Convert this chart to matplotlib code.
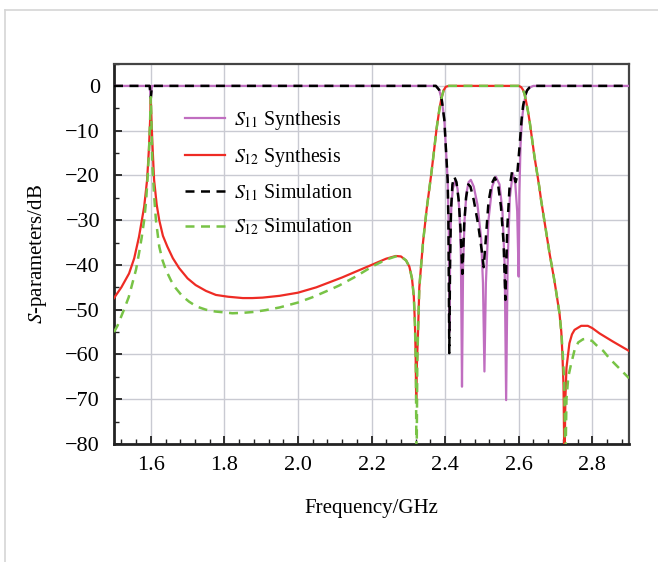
import numpy as np
import matplotlib
matplotlib.use('Agg')
import matplotlib.pyplot as plt
from matplotlib.lines import Line2D
from matplotlib.ticker import MultipleLocator

plt.rcParams['font.family'] = ['Liberation Serif', 'DejaVu Serif']
plt.rcParams['mathtext.fontset'] = 'stix'

# S12 synthesis (GHz, dB)
s12_syn_f = [1.5, 1.52, 1.541, 1.555, 1.568, 1.582, 1.59, 1.595, 1.598, 1.6, 1.602, 1.605,
             1.609, 1.616, 1.623, 1.633, 1.645, 1.66, 1.677, 1.70, 1.722, 1.75, 1.777, 1.81,
             1.85, 1.876, 1.904, 1.95, 2.0, 2.05, 2.085, 2.12, 2.157, 2.203, 2.24, 2.266,
             2.28, 2.294, 2.303, 2.31, 2.315, 2.318, 2.320, 2.3215, 2.3235, 2.3265, 2.330,
             2.34, 2.35, 2.362, 2.37, 2.377, 2.385, 2.39, 2.396, 2.402, 2.41, 2.5, 2.6,
             2.603, 2.607, 2.612, 2.616, 2.621, 2.625, 2.63, 2.643, 2.656, 2.661, 2.684,
             2.697, 2.702, 2.711, 2.716, 2.719, 2.722, 2.7245, 2.727, 2.730, 2.738, 2.745,
             2.752, 2.77, 2.788, 2.80, 2.82, 2.856, 2.9]
s12_syn_db = [-47.4, -45.0, -41.9, -38.5, -33.7, -27, -21, -14, -8, -3, -8, -14,
              -21, -26.5, -30, -33.5, -35.9, -38.5, -40.7, -43, -44.5, -45.8, -46.7, -47.1,
              -47.4, -47.4, -47.3, -46.9, -46.2, -45, -43.9, -42.8, -41.5, -39.9, -38.6, -38.0,
              -38.1, -39.0, -40.4, -43, -47, -53, -60, -70.5, -62, -55, -45,
              -35, -27.5, -20, -14.5, -9.5, -5, -2.8, -1, -0.2, 0, 0, 0,
              -0.1, -0.3, -0.9, -1.8, -3.8, -5.5, -8, -15.8, -22.5, -25.5, -37.4,
              -43.4, -46, -50.8, -55, -60, -67, -86, -70, -63, -57.5, -55.5,
              -54.5, -53.6, -53.6, -54.1, -55.3, -57.1, -59.2]

# S12 simulation
s12_sim_f = [1.5, 1.51, 1.527, 1.54, 1.55, 1.56, 1.568, 1.575, 1.582, 1.587, 1.591, 1.595,
             1.598, 1.6, 1.602, 1.604, 1.609, 1.614, 1.623, 1.632, 1.641, 1.655, 1.668, 1.685,
             1.704, 1.725, 1.75, 1.775, 1.8, 1.822, 1.85, 1.88, 1.912, 1.95, 2.0, 2.04,
             2.085, 2.112, 2.157, 2.203, 2.24, 2.266, 2.28, 2.294, 2.303, 2.31, 2.315, 2.318,
             2.3205, 2.3225, 2.3245, 2.3265, 2.330, 2.34, 2.35, 2.362, 2.37, 2.377, 2.385,
             2.39, 2.396, 2.402, 2.41, 2.5, 2.6, 2.603, 2.607, 2.612, 2.616, 2.621, 2.625,
             2.63, 2.643, 2.656, 2.661, 2.684, 2.697, 2.702, 2.711, 2.716, 2.72, 2.724, 2.727,
             2.73, 2.735, 2.743, 2.752, 2.762, 2.775, 2.785, 2.80, 2.811, 2.83, 2.847, 2.87, 2.9]
s12_sim_db = [-55, -53.5, -50, -47.2, -44.1, -41, -37.4, -34, -30, -26, -21, -15,
              -8, -2.5, -9, -17.3, -24.5, -30, -35.9, -39, -41.1, -43.5, -45.2, -46.9,
              -48.2, -49.3, -50, -50.4, -50.6, -50.8, -50.7, -50.5, -50.1, -49.5, -48.4, -47.2,
              -45.6, -44.6, -42.6, -40.3, -38.8, -38.1, -38.1, -39.0, -40.4, -43, -47, -53,
              -62, -86, -62, -55, -45, -35, -27.5, -20, -14.5, -9.5, -5,
              -2.8, -1, -0.2, 0, 0, 0, -0.1, -0.3, -0.9, -1.8, -3.8, -5.5,
              -8, -15.8, -22.5, -25.5, -37.4, -43.4, -46, -50.8, -55, -60, -66, -86,
              -70, -65, -62, -59, -57.3, -56.6, -56.5, -57, -57.9, -59.2, -60.9, -62.8, -65.3]

# S11 synthesis
s11_syn_f = [1.5, 1.597, 1.6, 1.603, 2.375, 2.384, 2.391, 2.398, 2.402, 2.407, 2.410, 2.412,
             2.414, 2.417, 2.421, 2.428, 2.434, 2.439, 2.443, 2.446, 2.449, 2.453, 2.458,
             2.464, 2.47, 2.478, 2.488, 2.498, 2.503, 2.507, 2.511, 2.518, 2.528, 2.538,
             2.548, 2.556, 2.562, 2.566, 2.570, 2.576, 2.584, 2.591, 2.596, 2.600, 2.602,
             2.605, 2.608, 2.611, 2.615, 2.618, 2.623, 2.629, 2.64, 2.9]
s11_syn_db = [0, 0, -3, 0, 0, -0.9, -3.1, -7.6, -13.6, -21, -32, -55,
              -35, -27, -23, -21, -23, -28, -38, -67.2, -40, -30, -24,
              -21.5, -21, -22.5, -26.5, -34, -44, -63.8, -44, -30, -22.5, -20.3,
              -22, -28, -40, -70.2, -40, -25, -19.5, -22, -28, -42.6, -24,
              -13.6, -9, -6.1, -3.8, -2.4, -1, -0.4, 0, 0]

# S11 simulation
s11_sim_f = [1.5, 1.597, 1.6, 1.603, 2.375, 2.384, 2.391, 2.398, 2.402, 2.407, 2.409, 2.4115,
             2.4135, 2.416, 2.42, 2.425, 2.431, 2.437, 2.442, 2.447, 2.452, 2.457, 2.463,
             2.469, 2.478, 2.49, 2.5, 2.505, 2.51, 2.518, 2.527, 2.535, 2.544, 2.552,
             2.559, 2.564, 2.569, 2.575, 2.582, 2.587, 2.592, 2.596, 2.603, 2.608, 2.612,
             2.618, 2.623, 2.629, 2.64, 2.9]
s11_sim_db = [0, 0, -2.7, 0, 0, -0.9, -3.1, -7.6, -13.6, -21, -30, -59.7,
              -40, -28, -22, -20.3, -21.5, -25.5, -32, -42, -31, -25, -22,
              -22.5, -25.5, -31, -37, -40.5, -35, -26, -21.8, -20.5, -22, -27,
              -35, -47.8, -32, -23, -19.2, -19.8, -21.5, -20, -13, -7.5, -4.5,
              -2.0, -1, -0.4, 0, 0]

labels = [r'$S_{11}$ Synthesis', r'$S_{12}$ Synthesis', r'$S_{11}$ Simulation', r'$S_{12}$ Simulation']
xticks = [1.6, 1.8, 2.0, 2.2, 2.4, 2.6, 2.8]
yticks = [-80, -70, -60, -50, -40, -30, -20, -10, 0]

fig = plt.figure(figsize=(6.58, 5.62), dpi=100)
ax = fig.add_axes([114/658, 1 - 444/562, 515/658, 380.5/562])

dash = (0, (3.6, 2.6))
ax.plot(s11_syn_f, s11_syn_db, color='#c06ec0', lw=1.6, label=labels[0], zorder=3)
ax.plot(s12_syn_f, s12_syn_db, color='#ee2b24', lw=1.6, label=labels[1], zorder=4)
ax.plot(s11_sim_f, s11_sim_db, color='black', lw=1.8, ls=dash, label=labels[2], zorder=5)
ax.plot(s12_sim_f, s12_sim_db, color='#78c346', lw=1.8, ls=dash, label=labels[3], zorder=6)

ax.set_xlim(1.5, 2.9)
ax.set_ylim(-80, 5)
ax.xaxis.set_minor_locator(MultipleLocator(0.04))
ax.yaxis.set_minor_locator(MultipleLocator(5))
ax.set_xticks(xticks)
ax.set_xticklabels(['%.1f' % v for v in xticks])
ax.set_yticks(yticks)
ax.set_yticklabels([('\u2212%d' % -v) if v < 0 else '0' for v in yticks])
ax.grid(True, which='major', color='#c9cad2', lw=1.0)
ax.set_axisbelow(True)

ax.tick_params(which='both', direction='in', top=False, right=False, labelsize=16, color='#222222')
ax.tick_params(which='major', length=6, width=1.3)
ax.tick_params(axis='x', which='major', pad=9)
ax.tick_params(axis='y', which='major', pad=10)
ax.tick_params(which='minor', length=3.5, width=1.0)

for s in ['left', 'bottom']:
    ax.spines[s].set_linewidth(2.0)
    ax.spines[s].set_color('#222222')
for s in ['top', 'right']:
    ax.spines[s].set_linewidth(1.6)
    ax.spines[s].set_color('#444444')

ax.set_xlabel('Frequency/GHz', fontsize=15, labelpad=17)
ax.set_ylabel(r'$S$-parameters/dB', fontsize=15, labelpad=12)

ax.legend(loc='upper left', bbox_to_anchor=(0.138, 0.88), frameon=False, fontsize=14.3,
          handlelength=2.0, handletextpad=0.45, labelspacing=0.69, borderpad=0, borderaxespad=0)

# light frame around the figure
fig.add_artist(Line2D([5/658, 1.0], [1 - 10/562, 1 - 10/562], transform=fig.transFigure,
                      color='#d6d6d6', lw=1.2))
fig.add_artist(Line2D([5/658, 5/658], [0, 1 - 10/562], transform=fig.transFigure,
                      color='#d6d6d6', lw=1.2))

fig.savefig('out.png', dpi=100)
